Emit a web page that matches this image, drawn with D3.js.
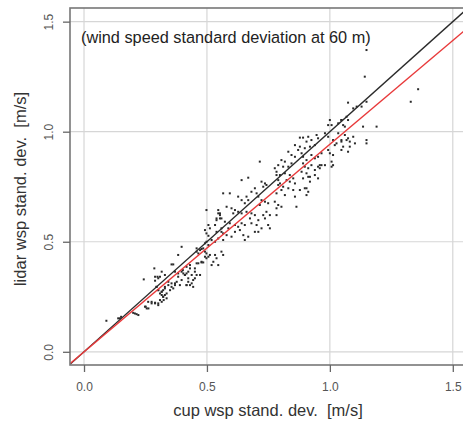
<!DOCTYPE html>
<html>
<head>
<meta charset="utf-8">
<script src="https://cdn.jsdelivr.net/npm/d3@7"></script>
<style>
body{margin:0;background:#fff;}
text{font-family:"Liberation Sans",Arial,Helvetica,sans-serif;white-space:pre;}
</style>
</head>
<body>
<div id="viz_scatter"></div>
<script>
var width=463, height=428;

// ticks
var xTicks=[0,0.5,1.0,1.5];
var yTicks=[0,0.5,1.0,1.5];
var tickLabels=["0.0","0.5","1.0","1.5"];

// fitted line (lidar = slope*cup + intercept) and 1:1 line
var fitSlope=0.943, fitIntercept=0.0;

// cup std dev vs lidar std dev [m/s]
var cupStd=[0.286,0.289,0.299,0.289,0.243,0.091,0.139,0.151,0.200,0.214,0.251,0.262,0.275,0.289,0.302,0.316,0.324,0.309,0.316,0.322,0.295,
0.498,0.546,0.553,0.539,0.553,0.506,0.512,0.492,0.498,0.506,0.559,0.566,0.397,0.458,0.472,0.478,0.383,0.498,0.492,0.506,0.533,0.539,0.526,0.546,0.559,0.566,
0.356,0.363,0.465,0.478,0.485,0.417,0.431,0.424,0.410,0.417,0.438,0.451,0.458,0.316,0.329,0.309,0.302,0.383,0.397,0.377,0.370,0.390,0.424,0.431,0.417,0.444,0.451,
0.343,0.356,0.350,0.329,0.295,0.302,0.316,0.336,0.322,0.492,0.498,0.519,0.533,
0.715,0.776,0.668,0.641,0.722,0.736,0.729,0.742,0.783,0.790,0.797,0.695,0.681,0.702,0.566,0.593,0.627,0.641,0.661,0.668,0.654,0.709,0.722,0.736,0.749,0.715,
0.776,0.790,0.783,0.803,0.580,0.600,0.614,0.627,0.607,0.641,0.546,0.553,0.559,0.539,0.661,0.681,0.695,0.675,0.709,0.729,0.736,0.742,0.756,0.783,
0.573,0.593,0.614,0.587,0.627,0.641,0.654,0.681,0.702,0.722,0.695,0.749,0.756,0.559,0.580,0.600,0.546,0.566,0.614,0.634,0.533,0.539,0.648,0.668,0.654,0.709,
1.000,1.007,0.993,1.047,1.054,0.878,0.891,0.912,0.946,0.952,0.905,0.925,0.980,0.993,1.013,1.027,1.020,1.047,1.054,0.858,0.878,0.871,0.898,0.919,0.939,
0.831,0.844,0.858,0.885,0.891,0.905,0.925,0.939,0.952,0.966,0.993,1.000,1.013,0.803,0.817,0.790,0.810,0.831,0.844,0.891,0.898,0.912,0.925,0.939,0.952,0.966,0.980,1.007,
0.783,0.797,0.817,0.837,0.851,0.837,0.824,0.858,0.885,0.905,0.912,0.891,0.919,0.939,0.952,0.790,0.810,0.831,0.803,0.851,0.878,0.898,0.912,0.783,0.817,0.858,0.905,
1.149,1.142,1.329,1.359,1.074,1.149,1.095,1.109,1.129,1.068,1.047,1.034,1.074,1.061,1.135,1.190,1.034,1.061,1.074,1.095,1.047,1.081,1.102,1.149,1.149,1.081,
1.047,1.007,1.013,1.074,1.068,0.959,0.959,0.905,0.864,0.919,
0.370,0.383,0.343,0.356,0.370,0.363,0.329,0.302,0.316,0.329,0.322,0.336,0.309,0.261,0.275,0.289,0.302,0.248,0.255,
0.411,0.424,0.438,0.444,0.417,0.451,0.472,0.458,0.478,0.397,0.402,0.404,0.207,0.221,0.146,0.485,0.492,0.506,0.512,0.498,0.519,0.458,0.465,0.431];
var lidarStd=[0.379,0.341,0.341,0.323,0.329,0.141,0.152,0.159,0.177,0.171,0.205,0.197,0.227,0.223,0.220,0.227,0.235,0.265,0.258,0.280,0.295,
0.644,0.644,0.629,0.606,0.606,0.576,0.561,0.553,0.538,0.527,0.561,0.538,0.477,0.470,0.462,0.467,0.440,0.447,0.432,0.432,0.440,0.425,0.409,0.394,0.455,0.440,
0.397,0.397,0.402,0.406,0.406,0.386,0.379,0.364,0.349,0.356,0.349,0.364,0.349,0.364,0.349,0.341,0.334,0.341,0.326,0.318,0.311,0.303,0.318,0.303,0.303,0.326,0.334,
0.303,0.295,0.280,0.288,0.295,0.280,0.273,0.265,0.250,0.493,0.500,0.508,0.500,
0.864,0.834,0.791,0.780,0.773,0.765,0.750,0.758,0.803,0.780,0.765,0.743,0.727,0.720,0.720,0.720,0.705,0.689,0.705,0.689,0.675,0.705,0.689,0.682,0.675,0.667,
0.682,0.667,0.652,0.659,0.659,0.652,0.644,0.636,0.629,0.629,0.629,0.621,0.606,0.598,0.636,0.629,0.621,0.606,0.598,0.621,0.606,0.636,0.621,0.621,
0.591,0.584,0.576,0.561,0.568,0.584,0.576,0.584,0.576,0.561,0.545,0.576,0.561,0.545,0.530,0.523,0.515,0.508,0.545,0.553,0.576,0.545,0.530,0.523,0.508,0.545,
1.053,1.030,1.030,1.053,1.030,0.973,0.973,0.977,0.985,0.970,0.955,0.962,0.993,0.977,0.962,0.947,0.939,0.955,0.932,0.939,0.932,0.917,0.925,0.932,0.939,
0.909,0.894,0.886,0.902,0.886,0.871,0.894,0.879,0.886,0.902,0.917,0.902,0.894,0.871,0.864,0.848,0.841,0.841,0.856,0.856,0.841,0.834,0.848,0.826,0.841,0.848,0.848,0.841,
0.818,0.803,0.811,0.803,0.788,0.773,0.780,0.765,0.818,0.811,0.795,0.788,0.773,0.803,0.788,0.758,0.750,0.743,0.735,0.735,0.735,0.743,0.727,0.720,0.712,0.705,0.712,
1.371,1.250,1.136,1.193,1.132,1.136,1.106,1.114,1.114,1.068,1.053,1.038,1.053,1.023,1.023,1.023,0.993,0.985,0.970,0.977,0.962,0.955,0.947,0.962,0.947,0.932,
0.917,0.864,0.848,0.909,0.962,0.848,0.834,0.743,0.659,0.795,
0.364,0.356,0.318,0.311,0.303,0.288,0.295,0.280,0.273,0.258,0.250,0.243,0.235,0.227,0.220,0.220,0.212,0.205,0.197,
0.349,0.334,0.311,0.295,0.303,0.379,0.349,0.402,0.409,0.364,0.371,0.356,0.174,0.167,0.152,0.470,0.455,0.485,0.440,0.425,0.394,0.455,0.447,0.394];

var svg=d3.select("#viz_scatter")
  .append("svg")
  .attr("width",width)
  .attr("height",height);

var xScale=d3.scaleLinear()
  .domain([-0.057,1.57])
  .range([70,470]);
var yScale=d3.scaleLinear()
  .domain([-0.06,1.562])
  .range([365,8]);

var x0=xScale.range()[0], x1=xScale.range()[1];
var y0=yScale.range()[1], y1=yScale.range()[0];

svg.append("clipPath").attr("id","plotclip")
  .append("rect")
  .attr("x",x0).attr("y",y0)
  .attr("width",x1-x0).attr("height",y1-y0);

//grid
svg.selectAll(".vgrid")
  .data(xTicks)
  .enter()
  .append("line")
  .attr("x1",function(d){return xScale(d);})
  .attr("x2",function(d){return xScale(d);})
  .attr("y1",y0).attr("y2",y1)
  .attr("stroke","#d6d6d6")
  .attr("stroke-width",1.2);
svg.selectAll(".hgrid")
  .data(yTicks)
  .enter()
  .append("line")
  .attr("y1",function(d){return yScale(d);})
  .attr("y2",function(d){return yScale(d);})
  .attr("x1",x0).attr("x2",x1)
  .attr("stroke","#d6d6d6")
  .attr("stroke-width",1.2);

//points
var pts=d3.zip(cupStd,lidarStd);
svg.append("g")
  .attr("clip-path","url(#plotclip)")
  .selectAll("rect")
  .data(pts)
  .enter()
  .append("rect")
  .attr("x",function(d){return xScale(d[0])-1;})
  .attr("y",function(d){return yScale(d[1])-1;})
  .attr("width",2)
  .attr("height",2)
  .attr("fill","#2a2a2a");

//lines
var lineG=svg.append("g").attr("clip-path","url(#plotclip)");
var xd=xScale.domain();
lineG.append("line")
  .attr("x1",xScale(xd[0])).attr("y1",yScale(xd[0]))
  .attr("x2",xScale(xd[1])).attr("y2",yScale(xd[1]))
  .attr("stroke","#2b2b2b")
  .attr("stroke-width",1.4);
lineG.append("line")
  .attr("x1",xScale(xd[0])).attr("y1",yScale(fitIntercept+fitSlope*xd[0]))
  .attr("x2",xScale(xd[1])).attr("y2",yScale(fitIntercept+fitSlope*xd[1]))
  .attr("stroke","#e8393a")
  .attr("stroke-width",1.4);

//box
svg.append("rect")
  .attr("x",x0).attr("y",y0)
  .attr("width",x1-x0).attr("height",y1-y0)
  .attr("fill","none")
  .attr("stroke","#777")
  .attr("stroke-width",1.6);

//axes
var xAxis=d3.axisBottom(xScale)
  .tickValues(xTicks)
  .tickSize(7)
  .tickFormat(function(d,i){return tickLabels[i];});
var gx=svg.append("g")
  .attr("transform","translate(0,"+y1+")")
  .call(xAxis);
gx.select(".domain").remove();
gx.selectAll("line").attr("stroke","#666").attr("stroke-width",1.3);
gx.selectAll("text")
  .attr("y",17)
  .attr("fill","#555")
  .style("font-size","12px");

var yAxis=d3.axisLeft(yScale)
  .tickValues(yTicks)
  .tickSize(7)
  .tickFormat(function(d,i){return tickLabels[i];});
var gy=svg.append("g")
  .attr("transform","translate("+x0+",0)")
  .call(yAxis);
gy.select(".domain").remove();
gy.selectAll("line").attr("stroke","#666").attr("stroke-width",1.3);
gy.selectAll("text")
  .attr("x",0).attr("y",0).attr("dy",0)
  .attr("transform","translate(-17,0) rotate(-90)")
  .style("text-anchor","middle")
  .attr("fill","#555")
  .style("font-size","12px");

//titles
svg.append("text")
  .attr("x",268)
  .attr("y",416)
  .style("text-anchor","middle")
  .style("font-size","16.5px")
  .attr("fill","#333")
  .text("cup wsp stand. dev.  [m/s]");
svg.append("text")
  .attr("transform","translate(26,189) rotate(-90)")
  .style("text-anchor","middle")
  .style("font-size","16.5px")
  .attr("fill","#333")
  .text("lidar wsp stand. dev.  [m/s]");
svg.append("text")
  .attr("x",81)
  .attr("y",43)
  .style("font-size","16.3px")
  .attr("fill","#222")
  .text("(wind speed standard deviation at 60 m)");
</script>
</body>
</html>
